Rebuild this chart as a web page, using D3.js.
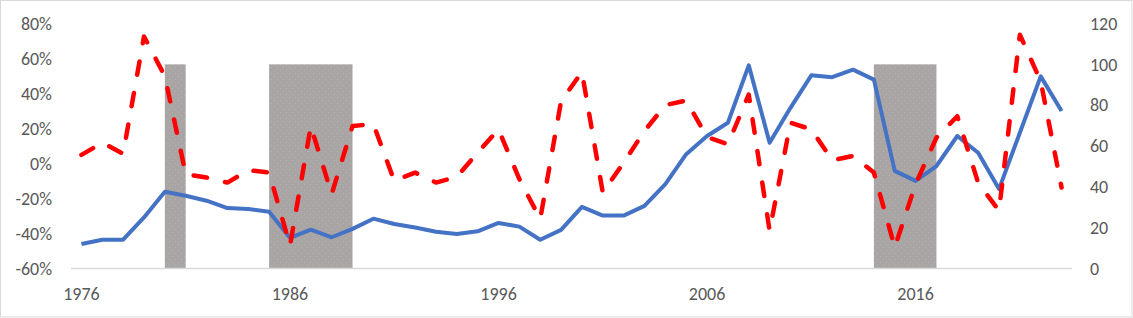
<!DOCTYPE html>
<html>
<head>
<meta charset="utf-8">
<script src="https://cdn.jsdelivr.net/npm/d3@7"></script>
<style>
  html, body { margin: 0; padding: 0; background: #fff; }
  svg { display: block; }
  .tick text { font-family: Calibri, Carlito, "Liberation Sans", Arial, sans-serif; fill: #595959; }
</style>
</head>
<body>
<div id="chart"></div>
<script>
const years = d3.range(1976, 2024);

// blue line, right axis (index level)
const blueValues = [
  12.0, 14.1, 14.1, 25.0, 37.6, 35.6, 33.2, 29.6, 29.1, 27.8,
  15.0, 19.0, 15.3, 19.4, 24.4, 21.8, 20.1, 18.0, 16.9, 18.2,
  22.3, 20.5, 14.1, 18.9, 30.2, 25.9, 25.9, 30.7, 41.3, 56.0,
  64.9, 71.4, 99.5, 61.6, 78.7, 94.6, 93.7, 97.4, 92.5, 47.8,
  42.9, 50.2, 64.9, 56.7, 38.9, 66.5, 94.1, 77.1
];

// red dashed line, left axis (percent change)
const redValues = [
  0.049, 0.119, 0.056, 0.726, 0.499, -0.061, -0.080, -0.109, -0.038, -0.052,
  -0.469, 0.214, -0.175, 0.214, 0.225, -0.099, -0.052, -0.109, -0.076, 0.062,
  0.195, -0.089, -0.317, 0.356, 0.523, -0.166, 0.005, 0.186, 0.334, 0.360,
  0.151, 0.110, 0.394, -0.384, 0.233, 0.195, 0.019, 0.043, -0.052, -0.479,
  -0.118, 0.148, 0.270, -0.110, -0.270, 0.736, 0.470, -0.137
];

// shaded periods [from, to], drawn to 100 on the right axis
const shadedPeriods = [[1980, 1981], [1985, 1989], [2014, 2017]];
const shadedHeight = 100;

const leftTicks = [-0.6, -0.4, -0.2, 0, 0.2, 0.4, 0.6, 0.8];
const rightTicks = [0, 20, 40, 60, 80, 100, 120];
const yearTicks = [1976, 1986, 1996, 2006, 2016];

const width = 1133, height = 318;
const plotLeft = 71, plotRight = 1072, plotTop = 23.5, plotBottom = 268.5;

const svg = d3.select('#chart')
  .append('svg')
  .attr('width', width)
  .attr('height', height);

// outer frame
svg.append('rect')
  .attr('x', 0.5).attr('y', 0.5)
  .attr('width', width - 1.5).attr('height', height - 1.5)
  .attr('fill', '#fff')
  .attr('stroke', '#d9d9d9');

// speckled grey fill like the reference
const pat = svg.append('defs').append('pattern')
  .attr('id', 'speckle')
  .attr('patternUnits', 'userSpaceOnUse')
  .attr('width', 6).attr('height', 6);
pat.append('rect').attr('width', 6).attr('height', 6).attr('fill', '#a9a5a5');
pat.append('rect').attr('x', 1).attr('y', 1).attr('width', 1).attr('height', 1).attr('fill', '#b6b3b3');
pat.append('rect').attr('x', 4).attr('y', 4).attr('width', 1).attr('height', 1).attr('fill', '#b4b1b1');

const x = d3.scaleBand()
  .domain(years)
  .range([plotLeft, plotRight])
  .padding(0);
const cx = yr => x(yr) + x.bandwidth() / 2;

const yLeft = d3.scaleLinear().domain([-0.6, 0.8]).range([plotBottom, plotTop]);
const yRight = d3.scaleLinear().domain([0, 120]).range([plotBottom, plotTop]);

// shaded bars
svg.append('g')
  .selectAll('rect')
  .data(shadedPeriods)
  .join('rect')
  .attr('x', d => cx(d[0]))
  .attr('width', d => cx(d[1]) - cx(d[0]))
  .attr('y', yRight(shadedHeight))
  .attr('height', yRight(0) - yRight(shadedHeight))
  .attr('fill', 'url(#speckle)');

// category axis line
svg.append('line')
  .attr('x1', plotLeft).attr('x2', plotRight)
  .attr('y1', plotBottom).attr('y2', plotBottom)
  .attr('stroke', '#d9d9d9')
  .attr('stroke-width', 1.5);

// axes
const leftAxis = svg.append('g')
  .attr('transform', `translate(${plotLeft - 19},0)`)
  .call(d3.axisLeft(yLeft).tickValues(leftTicks).tickSize(0).tickPadding(0)
    .tickFormat(d => Math.round(d * 100) + '%'));

const rightAxis = svg.append('g')
  .attr('transform', `translate(${plotRight + 18},0)`)
  .call(d3.axisRight(yRight).tickValues(rightTicks).tickSize(0).tickPadding(0));

const bottomAxis = svg.append('g')
  .attr('transform', `translate(0,${plotBottom + 18})`)
  .call(d3.axisBottom(x).tickValues(yearTicks).tickSize(0).tickPadding(0));

[leftAxis, rightAxis, bottomAxis].forEach(g => {
  g.select('.domain').remove();
  g.selectAll('text').style('font-size', '18px');
});
bottomAxis.selectAll('text').attr('y', 13).attr('dy', 0);

// blue line
svg.append('path')
  .datum(blueValues)
  .attr('fill', 'none')
  .attr('stroke', '#4472c4')
  .attr('stroke-width', 4)
  .attr('stroke-linejoin', 'round')
  .attr('d', d3.line()
    .x((d, i) => cx(years[i]))
    .y(d => yRight(d)));

// red dashed line
svg.append('path')
  .datum(redValues)
  .attr('fill', 'none')
  .attr('stroke', '#ff0000')
  .attr('stroke-width', 4.5)
  .attr('stroke-linecap', 'round')
  .attr('stroke-linejoin', 'round')
  .attr('stroke-dasharray', '13.5,18.5')
  .attr('d', d3.line()
    .x((d, i) => cx(years[i]))
    .y(d => yLeft(d)));
</script>
</body>
</html>
